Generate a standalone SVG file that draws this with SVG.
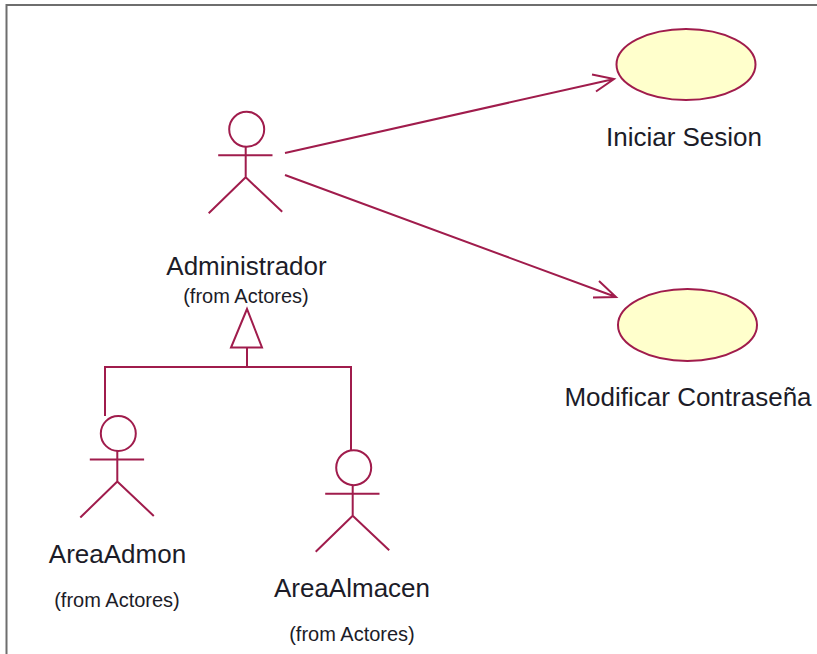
<svg xmlns="http://www.w3.org/2000/svg" width="817" height="654" viewBox="0 0 817 654">
<defs>
<style>
.l{fill:none;stroke:#a01c4c;stroke-width:2}
.t{fill:#1c1c28;font-family:"Liberation Sans",Arial,sans-serif;text-anchor:middle}
.n{font-size:26px}
.s{font-size:20px}
.u{fill:#ffffcc;stroke:#a01c4c;stroke-width:2}
</style>
<g id="actor"><circle class="l" cx="1" cy="0" r="17.500"/><path class="l" d="M-27.500 26H26.800M0 17V48M0 48L-37 84M0 48L36.500 82.500"/></g>
</defs>
<rect width="817" height="654" fill="#fff"/>
<path d="M6.500 654V5H817" fill="none" stroke="#6e6e6e" stroke-width="2"/>
<g id="connectors">
<path class="l" d="M285 153L614 79M592 74.500L614 79L596 91.500"/>
<path class="l" d="M285 175L616 297M599 281L616 297L593 297.500"/>
<path class="l" d="M247 347.500V367M105 416V367H351V451"/>
<path class="l" d="M247 309L231 347.500H262Z"/>
</g>
<g id="administrador"><use href="#actor" x="245.700" y="129.300"/><text class="t n" x="246.500" y="275">Administrador</text><text class="t s" x="246" y="303">(from Actores)</text></g>
<g id="areaadmon"><use href="#actor" x="117.300" y="433.500"/><text class="t n" x="117.500" y="563">AreaAdmon</text><text class="t s" x="117" y="607">(from Actores)</text></g>
<g id="areaalmacen"><use href="#actor" x="352.700" y="467.700"/><text class="t n" x="352" y="597">AreaAlmacen</text><text class="t s" x="352" y="641">(from Actores)</text></g>
<g id="iniciar"><ellipse class="u" cx="686" cy="64.500" rx="69.500" ry="35.500"/><text class="t n" x="684" y="145.500">Iniciar Sesion</text></g>
<g id="modificar"><ellipse class="u" cx="687.500" cy="325" rx="69.500" ry="36"/><text class="t n" x="688" y="406">Modificar Contraseña</text></g>
</svg>
